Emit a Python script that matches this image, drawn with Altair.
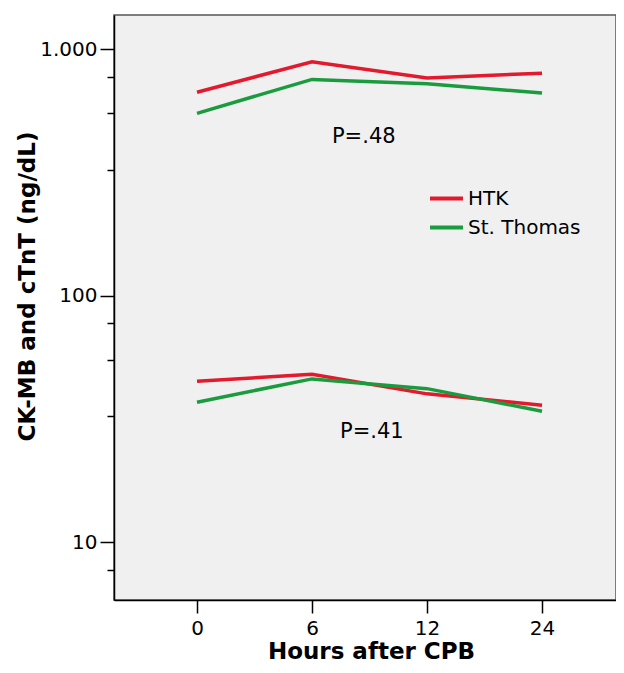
import json
import altair as alt
import pandas as pd

# ---- data ----
hours = ["0", "6", "12", "24"]
groups = ["HTK", "St. Thomas"]
htk_ckmb = [670, 890, 765, 800]
st_thomas_ckmb = [550, 755, 725, 665]
htk_ctnt = [45, 48, 40, 36]
st_thomas_ctnt = [37, 46, 42, 34]
major_ticks = [10, 100, 1000]
minor_ticks = [7.75, 32.5, 55, 77.5, 325, 550, 775]
p_texts = ["P=.48", "P=.41"]
p_x = [1.45, 1.52]
p_y = [441, 28]
colors = ["#e3192d", "#1a9c3e"]

y_domain = [5.83, 1378]
x_domain = [-0.7217, 3.643]

rows = []
for series, group, marker in [
    (htk_ckmb, "HTK", "CK-MB"),
    (st_thomas_ckmb, "St. Thomas", "CK-MB"),
    (htk_ctnt, "HTK", "cTnT"),
    (st_thomas_ctnt, "St. Thomas", "cTnT"),
]:
    for i, v in enumerate(series):
        rows.append({"xi": i, "hours": hours[i], "value": v, "group": group, "marker": marker})
df = pd.DataFrame(rows)
minor_df = pd.DataFrame({"v": minor_ticks})
p_df = pd.DataFrame({"label": p_texts, "px": p_x, "py": p_y})

FONT = "DejaVu Sans"
yscale = alt.Scale(type="log", domain=y_domain, nice=False)
xscale = alt.Scale(domain=x_domain, nice=False, zero=False)

lines = alt.Chart(df).mark_line(strokeWidth=3.5).encode(
    x=alt.X(
        "xi:Q",
        scale=xscale,
        axis=alt.Axis(
            values=list(range(len(hours))),
            labelExpr=json.dumps(hours) + "[datum.value]",
            title="Hours after CPB",
            titleX=257,
            titleY=58,
            titleBaseline="alphabetic",
            titleAlign="center",
            tickSize=13,
            labelPadding=5,
            grid=False,
        ),
    ),
    y=alt.Y(
        "value:Q",
        scale=yscale,
        axis=alt.Axis(
            values=major_ticks,
            labelExpr="replace(format(datum.value, ','), ',', '.')",
            title="CK-MB and cTnT (ng/dL)",
            titleX=-80,
            titleY=271,
            titleAngle=-90,
            titleBaseline="alphabetic",
            titleAlign="center",
            tickSize=14,
            labelPadding=3,
            grid=False,
            orient="left",
        ),
    ),
    color=alt.Color(
        "group:N",
        scale=alt.Scale(domain=groups, range=colors),
        legend=alt.Legend(
            title=None,
            orient="none",
            legendX=314,
            legendY=165,
            symbolType="stroke",
            symbolSize=1089,
            symbolStrokeWidth=4,
            labelFontSize=20,
            labelFont=FONT,
            labelColor="black",
            labelOffset=3,
            rowPadding=-10,
            padding=0,
        ),
    ),
    detail="marker:N",
)

minor = alt.Chart(minor_df).mark_point(opacity=0).encode(
    y=alt.Y(
        "v:Q",
        scale=yscale,
        axis=alt.Axis(
            values=minor_ticks,
            tickSize=7,
            labels=False,
            domain=False,
            title=None,
            grid=False,
            orient="left",
        ),
    )
)

ptext = alt.Chart(p_df).mark_text(fontSize=21, font=FONT, color="black").encode(
    x=alt.X("px:Q", scale=xscale),
    y=alt.Y("py:Q", scale=yscale, axis=None),
    text="label:N",
)

chart = (
    alt.layer(lines, minor, ptext)
    .resolve_axis(y="independent")
    .properties(
        width=502,
        height=585,
        autosize="none",
        padding={"left": 106, "top": 7, "right": 0, "bottom": 65},
        background="white",
    )
    .configure_view(fill="#f0f0f0", stroke="#555555", strokeWidth=1.5)
    .configure_axis(
        labelFont=FONT,
        labelFontSize=20,
        labelColor="black",
        titleFont=FONT,
        titleFontSize=23,
        titleFontWeight="bold",
        titleColor="black",
        domainColor="black",
        domainWidth=1.5,
        tickColor="black",
        tickWidth=1.5,
    )
)

chart.save("out.html", embed_options={"renderer": "svg", "actions": False})
